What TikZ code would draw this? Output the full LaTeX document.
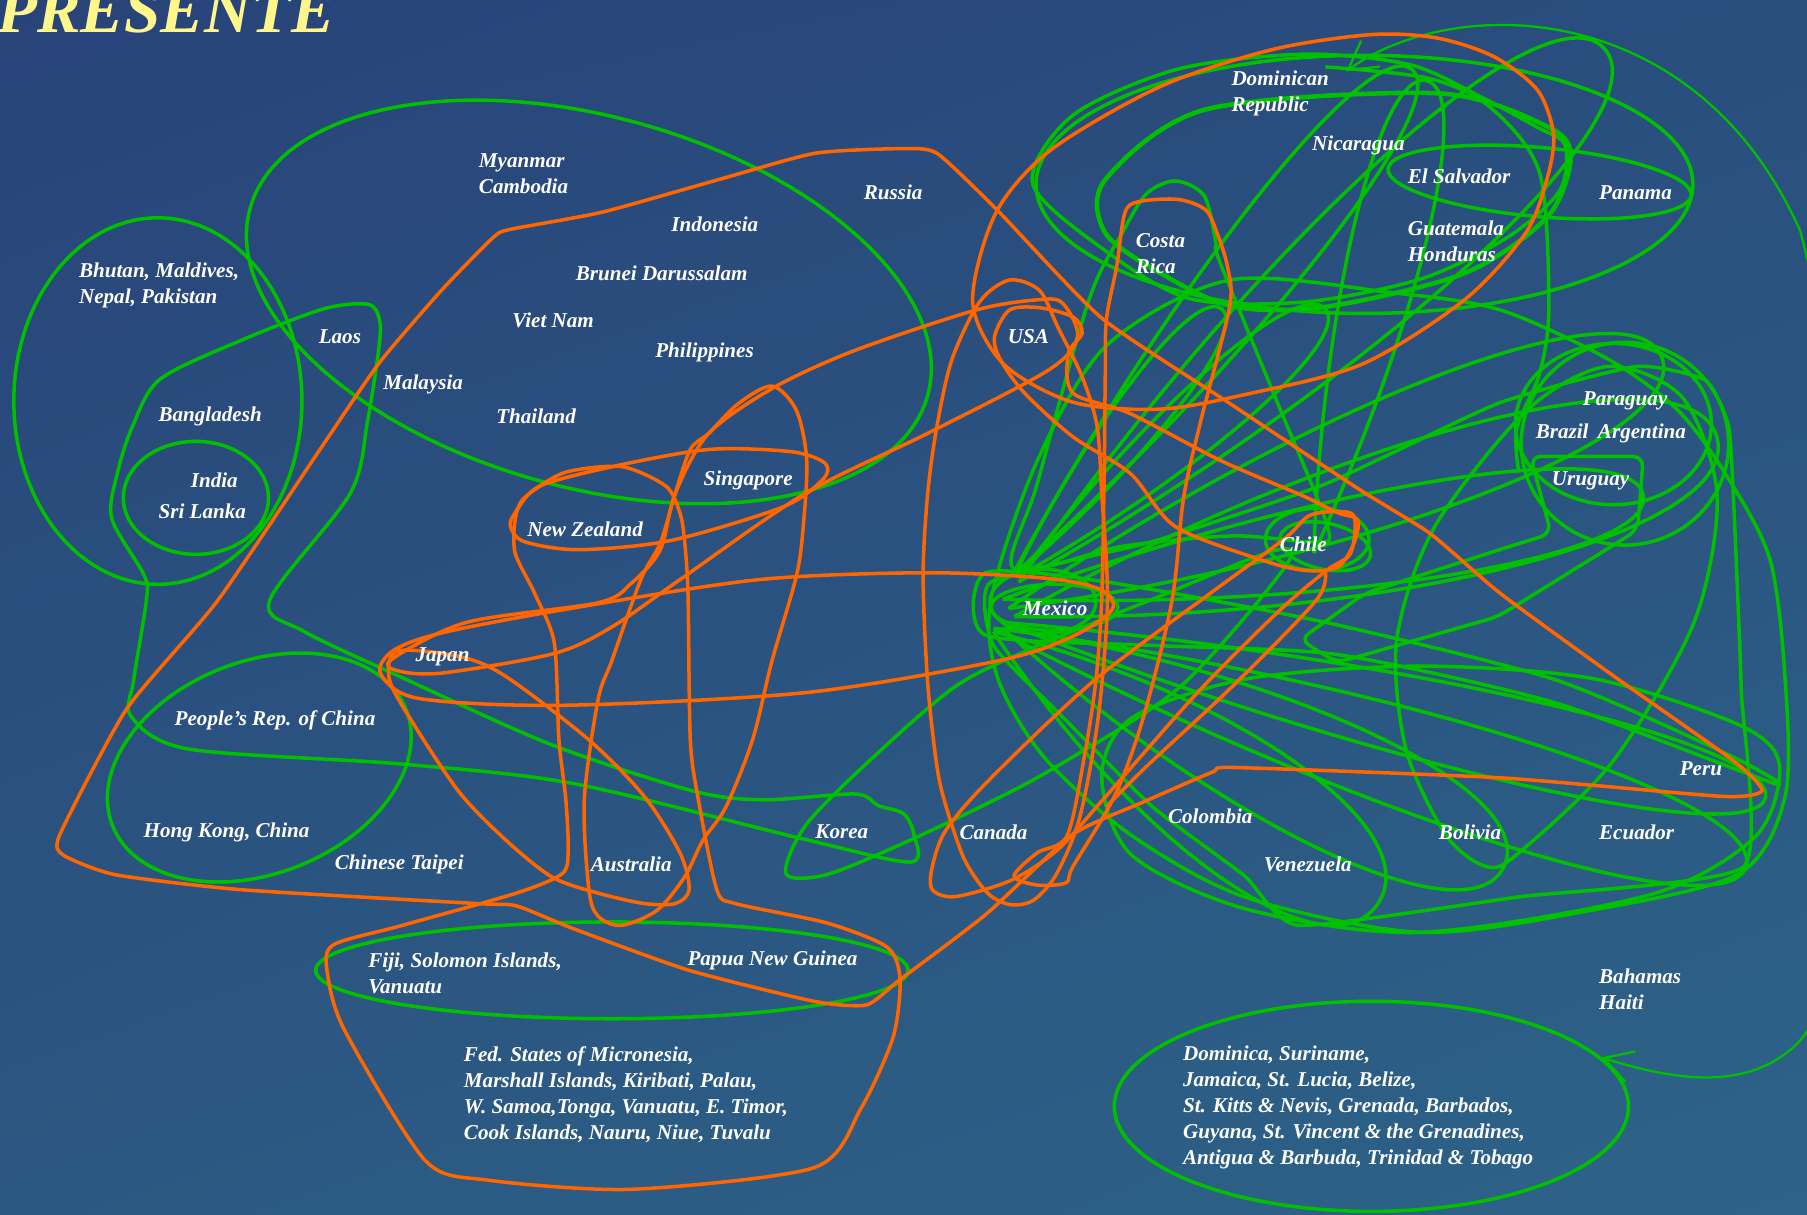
\documentclass[tikz,border=0pt]{standalone}
\usepackage{fontspec}
\setmainfont{Liberation Serif}
\usepackage{tikz}
\usetikzlibrary{calc,arrows.meta,shapes.geometric,shadings}
\definecolor{apgreen}{RGB}{0,192,0}
\definecolor{aporange}{RGB}{255,102,0}
\definecolor{titleyellow}{RGB}{255,246,140}
\definecolor{bgTL}{RGB}{40,67,121}
\definecolor{bgTR}{RGB}{41,78,126}
\definecolor{bgBL}{RGB}{43,88,130}
\definecolor{bgBR}{RGB}{45,99,136}
\tikzset{
  green loop/.style={draw=apgreen, line width=1pt, line join=round},
  orange loop/.style={draw=aporange, line width=1pt, line join=round},
  country/.style={text=white, font=\fontsize{6}{7.4}\selectfont\bfseries\itshape, inner sep=0pt, anchor=west, align=left},
}
\begin{document}
\begin{tikzpicture}[x=0.011524cm, y=-0.011524cm]
\useasboundingbox (0,0) rectangle (1568,1053.5);
\shade[upper left=bgTL, upper right=bgTR, lower left=bgBL, lower right=bgBR] (0,0) rectangle (1568,1053.5);
\clip (0,0) rectangle (1568,1053.5);
\node[anchor=base west, inner sep=0pt, text=titleyellow, font=\fontsize{18.6}{18.6}\selectfont\bfseries\itshape] (title) at (-3,28) {PRESENTE};

% asia
\draw[green loop] (137,348) ellipse [x radius=125, y radius=159];
\draw[green loop] (170,432) ellipse [x radius=63, y radius=49];
\draw[green loop] (511,262) ellipse [x radius=305, y radius=161, rotate=-15.4];
\draw[green loop] (225,666) ellipse [x radius=137, y radius=92, rotate=21.6];
\draw[green loop] (531,842) ellipse [x radius=257, y radius=42];
\draw[green loop] plot[smooth cycle, tension=0.5] coordinates {(139,329) (210,295) (281,268) (319,264) (329,276) (329,300) (319,365) (304,428) (234,521) (264,548) (349,588) (478,646) (600,686) (662,694) (742,689) (762,699) (784,706) (793,724) (790,748) (697,728) (498,680) (349,663) (164,650) (114,622) (116,590) (127,521) (125,499) (97,450) (102,410) (115,370)};
\draw[green loop] plot[smooth cycle, tension=0.5] coordinates {(682,758) (700,715) (760,655) (830,595) (897,562) (1000,520) (1105,478) (1115,492) (1024,596) (917,665) (857,697) (781,733) (717,759)};

% americas
\draw[green loop] (1184,160) ellipse [x radius=285, y radius=112];
\draw[green loop] plot[smooth cycle, tension=0.5] coordinates {(896,159) (931,100) (1022,60) (1132,47) (1223,56) (1283,83) (1333,110) (1358,126) (1353,166) (1308,206) (1233,242) (1132,262) (1032,259) (957,216)};
\draw[green loop, line width=1.3pt] plot[smooth cycle, tension=0.5] coordinates {(959,156) (1046,95) (1248,81) (1343,110) (1363,136) (1343,188) (1271,237) (1152,266) (1070,266) (1007,237) (959,202)};
\draw[green loop] (1336,158) ellipse [x radius=132, y radius=30, rotate=-5];
\draw[green loop] plot[smooth cycle, tension=0.5] coordinates {(1020,157) (1045,170) (1055,210) (1058,226) (1105,341) (1152,457) (1140,470) (1070,465) (974,474) (880,494) (900,420) (945,260) (975,200) (995,168)};
\draw[green loop] plot[smooth, tension=0.5] coordinates {(1150,58) (1240,68) (1293,93) (1336,150) (1344,266) (1336,324) (1316,372) (1318,410)};
\foreach \bx/\by/\ax/\ay/\w in {878/500/1225/60/16pt, 884/505/1392/42/26pt, 875/528/1442/310/24pt, 880/535/1490/380/28pt, 870/545/1305/752/24pt, 862/548/1195/785/26pt, 870/540/1532/692/16pt, 862/545/1515/752/20pt, 884/500/1150/268/12pt, 880/500/1060/268/10pt, 1140/480/1238/70/14pt, 870/520/1426/430/18pt}
  \draw[green loop] (\bx,\by) .. controls ($(\bx,\by)!0.5!(\ax,\ay)!\w!-90:(\ax,\ay)$) and ($(\ax,\ay)!\w!90:(\bx,\by)$) .. (\ax,\ay) .. controls ($(\ax,\ay)!\w!-90:(\bx,\by)$) and ($(\bx,\by)!0.5!(\ax,\ay)!\w!90:(\ax,\ay)$) .. (\bx,\by);
\draw[green loop] (915,527) ellipse [x radius=55, y radius=20];
\draw[green loop] (905,522) ellipse [x radius=46, y radius=28];
\draw[green loop] plot[smooth cycle, tension=0.4] coordinates {(855,497) (855,551) (1000,560) (1161,568) (1350,610) (1540,680) (1500,655) (1350,590) (1150,540) (960,505)};
\draw[green loop] (1143,468) ellipse [x radius=45, y radius=27];
\draw[green loop] (1150,474) ellipse [x radius=40, y radius=20, rotate=-12];
\draw[green loop] (1400,368) ellipse [x radius=85, y radius=70];
\draw[green loop] (1410,385) ellipse [x radius=90, y radius=88];
\draw[green loop, rounded corners=3pt] (1328,396) -- (1426,396) -- (1421,460) -- (1300,535) -- (1160,575) -- (1128,555) -- (1184,515) -- (1301,477) -- (1346,463) -- cycle;
\draw[green loop] plot[smooth cycle, tension=0.5] coordinates {(956,674) (982,623) (1082,589) (1233,578) (1383,589) (1509,629) (1544,663) (1524,725) (1433,776) (1233,809) (1082,789) (982,742)};
\draw[green loop] plot[smooth cycle, tension=0.3] coordinates {(860,505) (1000,470) (1150,420) (1300,350) (1420,318) (1480,330) (1500,370) (1505,450) (1511,600) (1513,752) (1320,778) (1127,803) (1080,760) (1000,700) (920,620) (862,560)};
\draw[green loop] plot[smooth cycle, tension=0.5] coordinates {(866,589) (860,520) (900,400) (960,300) (1067,243) (1208,254) (1302,269) (1396,312) (1456,356) (1499,414) (1536,486) (1549,589) (1549,691) (1509,758) (1380,790) (1233,809) (1082,779) (982,725) (906,657)};
\draw[green loop] plot[smooth cycle, tension=0.5] coordinates {(1395,318) (1325,356) (1245,457) (1212,555) (1220,650) (1255,725) (1290,752) (1318,740) (1400,660) (1470,540) (1490,430) (1460,345)};
\node[green loop, ellipse, minimum width=5.14cm, minimum height=2.1cm, inner sep=0pt] (carib) at (1190,960) {};
\coordinate (drtip) at (1168,62);
\draw[green loop, line width=0.65pt, <->, >={Straight Barb[length=2.8mm, width=3.2mm]}] (drtip) .. controls (1260,-5) and (1470,-5) .. (1562,200) .. controls (1620,420) and (1640,820) .. (1560,905) .. controls (1520,945) and (1460,940) .. (carib.12);

% orange groups
\draw[orange loop] plot[smooth cycle, tension=0.35] coordinates {(443,199) (523,184) (623,156) (707,133) (781,129) (813,133) (866,183) (956,276) (1067,350) (1180,425) (1241,463) (1302,515) (1398,585) (1504,660) (1529,686) (1494,691) (1303,675) (1072,666) (1052,670) (992,696) (931,724) (856,793) (781,850) (752,872) (707,869) (598,842) (498,806) (448,786) (413,784) (209,772) (100,759) (55,742) (52,724) (110,615) (189,521) (279,388) (329,315) (383,252) (428,206)};
\draw[orange loop] plot[smooth cycle, tension=0.5] coordinates {(844,262) (864,185) (912,130) (1007,75) (1104,43) (1190,30) (1247,33) (1296,49) (1334,78) (1348,116) (1343,153) (1324,202) (1271,260) (1182,316) (1082,342) (1007,355) (931,349) (871,316)};
\draw[orange loop] plot[smooth cycle, tension=0.5] coordinates {(876,243) (850,262) (826,312) (813,370) (805,428) (801,500) (805,593) (813,665) (821,700) (837,746) (857,775) (877,785) (897,781) (917,758) (937,709) (953,622) (961,521) (956,428) (952,370) (939,327) (918,284) (902,252)};
\draw[orange loop] plot[smooth cycle, tension=0.5] coordinates {(988,175) (1022,173) (1046,182) (1056,202) (1065,231) (1067,266) (1042,365) (1027,432) (1017,521) (992,623) (967,691) (931,752) (925,766) (900,768) (880,760) (900,740) (926,725) (941,656) (951,590) (956,520) (958,420) (959,332) (960,278) (969,231) (976,185)};
\draw[orange loop] plot[smooth cycle, tension=0.5] coordinates {(1114,468) (1135,448) (1156,444) (1175,448) (1172,480) (1151,495) (1110,530) (1040,600) (957,694) (917,738) (877,764) (829,778) (809,772) (809,752) (821,720) (860,675) (950,590) (1050,515)};
\draw[orange loop] plot[smooth, tension=0.5] coordinates {(1150,495) (1142,521) (1070,595) (997,663) (960,700)};
\draw[orange loop] plot[smooth cycle, tension=0.5] coordinates {(863,292) (876,269) (902,267) (931,275) (939,289) (927,307) (931,341) (981,359) (1060,400) (1130,430) (1161,445) (1178,451) (1175,471) (1161,492) (1133,495) (1095,486) (1020,457) (981,411) (931,379) (889,341) (868,312)};
\draw[orange loop] plot[smooth cycle, tension=0.5] coordinates {(330,584) (363,606) (489,612) (699,601) (868,573) (931,552) (965,529) (956,512) (910,502) (805,497) (658,503) (489,529) (384,549) (342,564)};
\draw[orange loop] plot[smooth cycle, tension=0.5] coordinates {(340,572) (405,540) (519,523) (548,506) (573,477) (586,428) (615,376) (672,336) (742,304) (847,269) (902,260) (922,263) (935,292) (910,321) (805,376) (699,428) (590,503) (531,544) (481,567) (384,584) (345,582)};
\draw[orange loop] plot[smooth cycle, tension=0.5] coordinates {(443,457) (447,445) (468,422) (531,405) (615,390) (687,392) (716,402) (714,416) (679,440) (582,469) (502,477) (455,470)};
\draw[orange loop] plot[smooth cycle, tension=0.5] coordinates {(670,335) (691,356) (700,399) (697,457) (691,500) (670,573) (653,642) (630,700) (610,729) (594,761) (570,790) (539,803) (519,795) (511,772) (507,694) (519,607) (531,573) (556,503) (573,471) (586,428) (599,390) (615,376) (641,350)};
\draw[orange loop] plot[smooth cycle, tension=0.5] coordinates {(345,565) (400,570) (439,587) (511,642) (559,691) (590,740) (598,772) (586,784) (559,784) (519,775) (479,761) (439,729) (399,688) (360,630) (338,590)};
\draw[orange loop] plot[smooth cycle, tension=0.45] coordinates {(455,432) (490,410) (540,405) (578,422) (590,445) (594,469) (597,515) (599,642) (606,694) (622,772) (638,784) (718,801) (770,822) (781,850) (775,900) (747,962) (707,1013) (548,1032) (423,1024) (369,1007) (299,894) (284,844) (289,820) (349,803) (448,775) (488,758) (493,737) (491,694) (485,642) (481,558) (464,515) (447,480) (447,451)};

% labels
\node[country] (myanmar) at (415,150.5) {Myanmar\\Cambodia};
\node[country] (russia) at (749,167) {Russia};
\node[country] (indonesia) at (582,195) {Indonesia};
\node[country] (brunei) at (499,237) {Brunei Darussalam};
\node[country] (vietnam) at (444,278) {Viet Nam};
\node[country] (philippines) at (568,306) {Philippines};
\node[country] (malaysia) at (332,334) {Malaysia};
\node[country] (thailand) at (430,361) {Thailand};
\node[country] (bhutan) at (68,248) {Bhutan, Maldives,\\Nepal, Pakistan};
\node[country] (laos) at (276,292) {Laos};
\node[country] (bangladesh) at (137,361) {Bangladesh};
\node[country] (india) at (165,417) {India};
\node[country] (srilanka) at (137,444) {Sri Lanka};
\node[country] (singapore) at (610,417) {Singapore};
\node[country] (newzealand) at (457,459) {New Zealand};
\node[country] (japan) at (360,570) {Japan};
\node[country] (china) at (151,625) {People's Rep. of China};
\node[country] (hongkong) at (124,722) {Hong Kong, China};
\node[country] (taipei) at (290,750) {Chinese Taipei};
\node[country] (australia) at (512,750) {Australia};
\node[country] (korea) at (707,722) {Korea};
\node[country] (canada) at (832,722) {Canada};
\node[country] (fiji) at (319,844.5) {Fiji, Solomon Islands,\\Vanuatu};
\node[country] (png) at (596,833) {Papua New Guinea};
\node[country] (micronesia) at (402,950) {Fed. States of Micronesia,\\Marshall Islands, Kiribati, Palau,\\W. Samoa,Tonga, Vanuatu, E. Timor,\\Cook Islands, Nauru, Niue, Tuvalu};
\node[country] (dominican) at (1068,81) {Dominican\\Republic};
\node[country] (nicaragua) at (1138,126) {Nicaragua};
\node[country] (elsalvador) at (1221,153) {El Salvador};
\node[country] (panama) at (1387,167) {Panama};
\node[country] (guatemala) at (1221,209) {Guatemala\\Honduras};
\node[country] (costarica) at (985,220) {Costa\\Rica};
\node[country] (usa) at (874,292) {USA};
\node[country] (paraguay) at (1373,348) {Paraguay};
\node[country] (brazil) at (1332,376) {Brazil\hspace{0.45em}Argentina};
\node[country] (uruguay) at (1346,417) {Uruguay};
\node[country] (chile) at (1110,472) {Chile};
\node[country] (mexico) at (887,528) {Mexico};
\node[country] (peru) at (1457,667) {Peru};
\node[country] (colombia) at (1013,708) {Colombia};
\node[country] (bolivia) at (1248,722) {Bolivia};
\node[country] (ecuador) at (1387,722) {Ecuador};
\node[country] (venezuela) at (1096,750) {Venezuela};
\node[country] (bahamas) at (1387,858.5) {Bahamas\\Haiti};
\node[country] (dominica) at (1026,961) {Dominica, Suriname,\\Jamaica, St. Lucia, Belize,\\St. Kitts \& Nevis, Grenada, Barbados,\\Guyana, St. Vincent \& the Grenadines,\\Antigua \& Barbuda, Trinidad \& Tobago};
\end{tikzpicture}
\end{document}
